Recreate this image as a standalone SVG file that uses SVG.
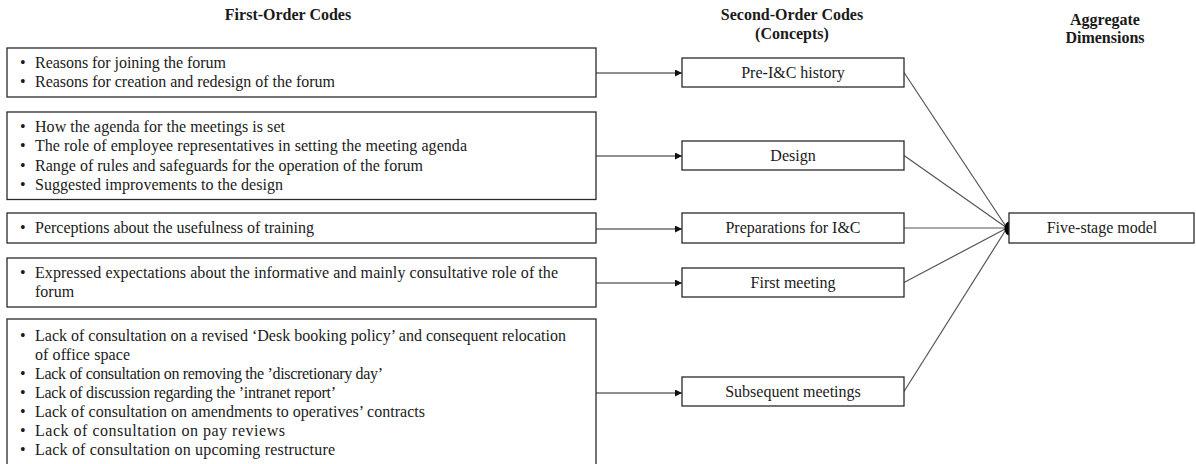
<svg xmlns="http://www.w3.org/2000/svg" width="1196" height="464" viewBox="0 0 1196 464">
<defs>
<style>
.t{font-family:"Liberation Serif","Times New Roman",serif;font-size:16px;fill:#1a1a1a}
.h{font-family:"Liberation Serif","Times New Roman",serif;font-size:16px;font-weight:bold;fill:#1a1a1a;text-anchor:middle}
.c{text-anchor:middle}
.box{fill:#fff;stroke:#2a2a2a;stroke-width:1.3}
.ln{stroke:#555;stroke-width:1.2;fill:none}
.ar{stroke:#222;stroke-width:1.2;fill:none}
</style>
<marker id="ah" viewBox="0 0 10 10" refX="10" refY="5" markerWidth="9" markerHeight="7" markerUnits="userSpaceOnUse" orient="auto">
<path d="M0,0 L10,5 L0,10 z" fill="#111"/>
</marker>
</defs>
<rect width="1196" height="464" fill="#fff"/>

<g id="headers">
<text class="h" x="288" y="20">First-Order  Codes</text>
<text class="h" x="792" y="20">Second-Order  Codes</text>
<text class="h" x="792" y="39">(Concepts)</text>
<text class="h" x="1105" y="25">Aggregate</text>
<text class="h" x="1105" y="43">Dimensions</text>
</g>

<g id="connectors">
<line class="ar" x1="596" y1="73" x2="682" y2="73" marker-end="url(#ah)"/>
<line class="ar" x1="596" y1="156" x2="682" y2="156" marker-end="url(#ah)"/>
<line class="ar" x1="596" y1="229" x2="682" y2="229" marker-end="url(#ah)"/>
<line class="ar" x1="596" y1="283" x2="682" y2="283" marker-end="url(#ah)"/>
<line class="ar" x1="596" y1="393" x2="682" y2="393" marker-end="url(#ah)"/>
<line class="ln" x1="904" y1="72.5" x2="1007" y2="228"/>
<line class="ln" x1="904" y1="155.5" x2="1007" y2="228"/>
<line class="ln" x1="904" y1="228" x2="1007" y2="228"/>
<line class="ln" x1="904" y1="282.5" x2="1007" y2="228"/>
<line class="ln" x1="904" y1="391.5" x2="1007" y2="228"/>
<ellipse cx="1009.5" cy="228.5" rx="5" ry="7" fill="#000"/>
</g>

<g id="fo1">
<rect class="box" x="7" y="48" width="589" height="49"/>
<text class="t" x="20" y="68">•</text><text class="t" x="35" y="68" textLength="191" lengthAdjust="spacing">Reasons for joining the forum</text>
<text class="t" x="20" y="87">•</text><text class="t" x="35" y="87" textLength="300" lengthAdjust="spacing">Reasons for creation and redesign of the forum</text>
</g>

<g id="fo2">
<rect class="box" x="7" y="112" width="589" height="87.5"/>
<text class="t" x="20" y="132">•</text><text class="t" x="35" y="132" textLength="250" lengthAdjust="spacing">How the agenda for the meetings is set</text>
<text class="t" x="20" y="151">•</text><text class="t" x="35" y="151" textLength="432" lengthAdjust="spacing">The role of employee representatives in setting the meeting agenda</text>
<text class="t" x="20" y="170.5">•</text><text class="t" x="35" y="170.5" textLength="388" lengthAdjust="spacing">Range of rules and safeguards for the operation of the forum</text>
<text class="t" x="20" y="190">•</text><text class="t" x="35" y="190" textLength="248" lengthAdjust="spacing">Suggested improvements to the design</text>
</g>

<g id="fo3">
<rect class="box" x="7" y="213" width="589" height="30"/>
<text class="t" x="20" y="233">•</text><text class="t" x="35" y="233" textLength="279" lengthAdjust="spacing">Perceptions about the usefulness of training</text>
</g>

<g id="fo4">
<rect class="box" x="7" y="258" width="589" height="49"/>
<text class="t" x="20" y="278">•</text><text class="t" x="35" y="278" textLength="523" lengthAdjust="spacing">Expressed expectations about the informative and mainly consultative role of the</text>
<text class="t" x="35" y="297">forum</text>
</g>

<g id="fo5">
<rect class="box" x="7" y="319" width="589" height="150"/>
<text class="t" x="20" y="341">•</text><text class="t" x="35" y="341" textLength="531" lengthAdjust="spacing">Lack of consultation on a revised ‘Desk booking policy’ and consequent relocation</text>
<text class="t" x="35" y="360" textLength="95" lengthAdjust="spacing">of office space</text>
<text class="t" x="20" y="379">•</text><text class="t" x="35" y="379" textLength="348" lengthAdjust="spacing">Lack of consultation on removing the ’discretionary day’</text>
<text class="t" x="20" y="398">•</text><text class="t" x="35" y="398" textLength="301" lengthAdjust="spacing">Lack of discussion regarding the ’intranet report’</text>
<text class="t" x="20" y="417">•</text><text class="t" x="35" y="417" textLength="390" lengthAdjust="spacing">Lack of consultation on amendments to operatives’ contracts</text>
<text class="t" x="20" y="436">•</text><text class="t" x="35" y="436" textLength="250" lengthAdjust="spacing">Lack of consultation on pay reviews</text>
<text class="t" x="20" y="455">•</text><text class="t" x="35" y="455" textLength="300" lengthAdjust="spacing">Lack of consultation on upcoming restructure</text>
</g>

<g id="so1">
<rect class="box" x="682" y="58" width="222" height="29"/>
<text class="t c" x="793" y="77.5">Pre-I&amp;C history</text>
</g>
<g id="so2">
<rect class="box" x="682" y="141" width="222" height="29"/>
<text class="t c" x="793" y="160.5">Design</text>
</g>
<g id="so3">
<rect class="box" x="682" y="213" width="222" height="30"/>
<text class="t c" x="793" y="233">Preparations  for  I&amp;C</text>
</g>
<g id="so4">
<rect class="box" x="682" y="268" width="222" height="29"/>
<text class="t c" x="793" y="287.5">First meeting</text>
</g>
<g id="so5">
<rect class="box" x="682" y="377" width="222" height="29"/>
<text class="t c" x="793" y="396.5">Subsequent  meetings</text>
</g>

<g id="ad1">
<rect class="box" x="1009" y="213" width="185" height="30"/>
<text class="t c" x="1102" y="233">Five-stage  model</text>
</g>
</svg>
